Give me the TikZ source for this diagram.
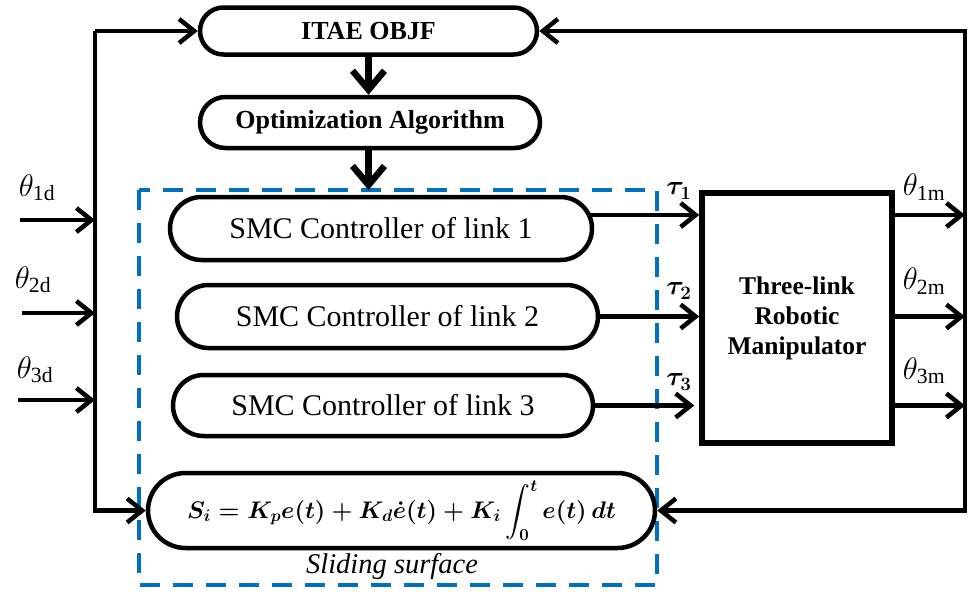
\RequirePackage{fix-cm}
\documentclass[tikz,border=0pt]{standalone}
\usepackage{amsmath}
\usepackage{bm}
\usepackage{fontspec}
\setmainfont{Liberation Serif}
\usetikzlibrary{arrows.meta}
\definecolor{dblue}{RGB}{0,112,192}
\tikzset{
  capsule/.style={draw, line width=4.5pt, inner sep=0pt},
  conn/.style={line width=4.5pt, -{Straight Barb[length=15pt,width=24pt,line width=4.5pt]}},
  thickconn/.style={line width=7pt, -{Straight Barb[length=19pt,width=32pt,line width=6.5pt]}},
  btxt/.style={font=\fontsize{26}{30}\selectfont\rmfamily\bfseries},
  rtxt/.style={font=\fontsize{30}{34}\selectfont\rmfamily},
  lbl/.style={font=\fontsize{31}{34}\selectfont, inner sep=0pt},
  taulbl/.style={font=\fontsize{27}{30}\selectfont, inner sep=0pt},
}
\begin{document}
\begin{tikzpicture}[x=1pt,y=-1pt]
\useasboundingbox (0,0) rectangle (970,592);
% dashed frame
\draw[dblue, line width=4pt, dash pattern=on 20pt off 13pt] (139,190) rectangle (657,585);
% boxes
\node[capsule, btxt, minimum width=337pt, minimum height=47pt, rounded corners=23.5pt] (itae) at (368.5,31) {ITAE OBJF};
\node[capsule, btxt, minimum width=340pt, minimum height=51pt, rounded corners=25.5pt] (opt) at (370,122.5) {Optimization Algorithm};
\node[capsule, rtxt, minimum width=422pt, minimum height=63pt, rounded corners=31.5pt] (smc1) at (381,228.5) {SMC Controller of link 1};
\node[capsule, rtxt, minimum width=421pt, minimum height=63pt, rounded corners=31.5pt] (smc2) at (387.5,316.5) {SMC Controller of link 2};
\node[capsule, rtxt, minimum width=420pt, minimum height=61pt, rounded corners=30.5pt] (smc3) at (383,405.5) {SMC Controller of link 3};
\node[capsule, minimum width=507pt, minimum height=75pt, rounded corners=37.5pt, font=\fontsize{24}{27}\selectfont\boldmath] (slide) at (401.5,510.5)
  {$S_i = K_p e(t) + K_d \dot{e}(t) + K_i \displaystyle\int_0^t e(t)\,dt$};
\node[font=\fontsize{28.5}{30}\selectfont\rmfamily\itshape, inner sep=0pt] (sltxt) at (392,566) {Sliding surface};
\node[draw, line width=5.5pt, minimum width=190pt, minimum height=250pt, inner sep=0pt, align=center,
      font=\fontsize{25.5}{30}\selectfont\rmfamily\bfseries] (mani) at (797,318) {Three-link\\Robotic\\Manipulator};
% coordinates
\coordinate (Lt) at (95,31);
\coordinate (Lb) at (95,510.5);
\coordinate (Rt) at (965,31);
\coordinate (Rb) at (965,510.5);
\coordinate (dtop) at (368.5,190);
\coordinate (i1) at (20,220);
\coordinate (i2) at (22,313);
\coordinate (i3) at (18,400);
\coordinate (t1) at (589,215);
% vertical arrows
\draw[thickconn] (itae.south) -- (itae.south |- opt.north);
\draw[thickconn] (opt.south -| dtop) -- (dtop);
% left feedback lines
\draw[conn] (Lt) -- (itae.west);
\draw[conn, line join=miter] (Lt) -- (Lb) -- (slide.west);
% right feedback lines
\draw[conn, line join=miter] (Rb) -- (Rt) -- (itae.east);
\draw[conn, line join=miter] (Rt) -- (Rb) -- (slide.east);
% inputs
\draw[conn] (i1) -- (i1 -| Lt);
\draw[conn] (i2) -- (i2 -| Lt);
\draw[conn] (i3) -- (i3 -| Lt);
% torques
\draw[conn] (t1) -- (t1 -| mani.west);
\draw[conn] (smc2.east) -- (smc2.east -| mani.west);
\draw[conn] (smc3.east) -- ([xshift=-5pt]smc3.east -| mani.west);
% outputs
\draw[conn] (mani.east |- t1) -- (Rt |- t1);
\draw[conn] (mani.east |- smc2.east) -- (Rt |- smc2.east);
\draw[conn] (mani.east |- smc3.east) -- (Rt |- smc3.east);
% labels
\node[lbl] (th1d) at (37,188) {$\theta_{\mathrm{1d}}$};
\node[lbl] (th2d) at (33,280) {$\theta_{\mathrm{2d}}$};
\node[lbl] (th3d) at (35,370) {$\theta_{\mathrm{3d}}$};
\node[lbl] (th1m) at (924,187) {$\theta_{\mathrm{1m}}$};
\node[lbl] (th2m) at (924,281) {$\theta_{\mathrm{2m}}$};
\node[lbl] (th3m) at (924,371) {$\theta_{\mathrm{3m}}$};
\node[taulbl] (tau1) at (679,191) {$\bm{\tau_1}$};
\node[taulbl] (tau2) at (679,291) {$\bm{\tau_2}$};
\node[taulbl] (tau3) at (679,382) {$\bm{\tau_3}$};
\end{tikzpicture}
\end{document}
